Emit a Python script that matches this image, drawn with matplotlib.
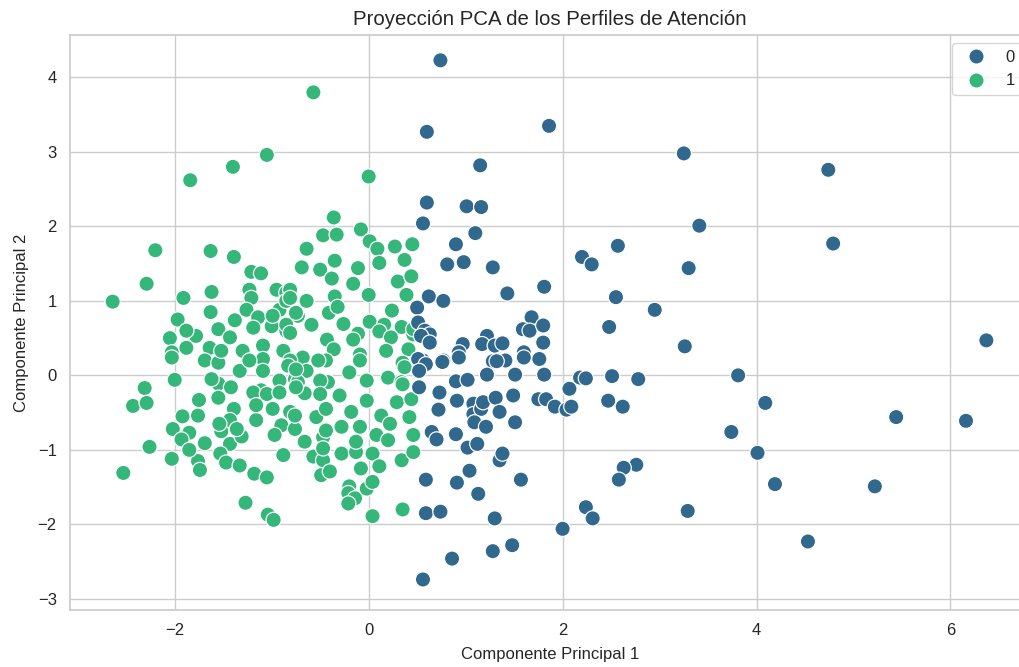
import matplotlib
matplotlib.use("Agg")
import matplotlib.pyplot as plt
import numpy as np
import seaborn as sns

# puntos (PC1, PC2), grupo 0
cluster_0 = np.array([
    (0.74, 4.23), (0.60, 3.27), (1.86, 3.35), (3.25, 2.98), (1.15, 2.82), (4.74, 2.76),
    (0.60, 2.32), (1.01, 2.27), (1.16, 2.26), (0.56, 2.04), (3.41, 2.01), (1.10, 1.91),
    (0.90, 1.76), (2.57, 1.74), (4.79, 1.77), (2.20, 1.59), (2.30, 1.49), (0.81, 1.49),
    (0.98, 1.52), (1.28, 1.45), (3.30, 1.44), (1.81, 1.19), (1.43, 1.10), (2.55, 1.05),
    (0.62, 1.06), (0.77, 1.00), (0.50, 0.91), (2.95, 0.88), (0.51, 0.71), (1.68, 0.78),
    (2.48, 0.65), (1.59, 0.62), (1.66, 0.60), (1.80, 0.67), (0.58, 0.60), (0.63, 0.55),
    (0.54, 0.53), (1.22, 0.53), (6.37, 0.47), (1.80, 0.44), (1.17, 0.42), (1.30, 0.40),
    (1.38, 0.43), (0.97, 0.42), (0.63, 0.44), (3.26, 0.39), (0.93, 0.31), (1.60, 0.31),
    (1.76, 0.22), (1.41, 0.20), (1.28, 0.19), (0.77, 0.20), (0.56, 0.20), (0.51, 0.22),
    (0.59, 0.15), (0.76, 0.18), (0.93, 0.24), (1.32, 0.19), (1.60, 0.24), (0.52, 0.06),
    (0.52, -0.16), (0.73, -0.23), (0.90, -0.08), (1.02, -0.06), (1.22, 0.01), (1.51, 0.01),
    (1.81, 0.01), (2.07, -0.18), (2.18, -0.03), (2.24, -0.04), (2.51, -0.01), (2.78, -0.05),
    (3.81, 0.00), (0.91, -0.34), (0.72, -0.46), (1.08, -0.38), (1.08, -0.52), (1.16, -0.45),
    (1.18, -0.36), (1.09, -0.63), (1.21, -0.69), (1.31, -0.30), (1.35, -0.49), (1.49, -0.27),
    (1.51, -0.63), (1.75, -0.32), (1.83, -0.32), (1.92, -0.42), (2.04, -0.46), (2.09, -0.42),
    (2.47, -0.34), (2.62, -0.42), (4.09, -0.37), (5.44, -0.56), (6.16, -0.61), (0.65, -0.76),
    (0.70, -0.86), (0.90, -0.79), (1.02, -0.97), (1.12, -0.92), (1.35, -1.14), (1.38, -1.05),
    (3.74, -0.76), (4.01, -1.04), (2.76, -1.20), (2.63, -1.24), (2.58, -1.40), (0.59, -1.40),
    (0.91, -1.44), (1.04, -1.28), (1.13, -1.59), (1.57, -1.40), (4.19, -1.46), (5.22, -1.49),
    (0.59, -1.85), (0.74, -1.83), (1.30, -1.92), (2.24, -1.77), (2.31, -1.92), (3.29, -1.82),
    (2.00, -2.06), (1.48, -2.28), (1.28, -2.36), (0.86, -2.46), (4.53, -2.23), (0.56, -2.74),
])

# grupo 1
cluster_1 = np.array([
    (-0.57, 3.80), (-1.05, 2.96), (-1.40, 2.80), (-1.84, 2.62), (0.00, 2.67),
    (-2.20, 1.68), (-2.29, 1.23), (-2.64, 0.99), (-1.63, 1.67), (-1.39, 1.59), (-1.21, 1.39),
    (-1.11, 1.37), (-1.23, 1.15), (-1.21, 1.04), (-1.91, 1.04), (-1.62, 1.12), (-1.63, 0.85),
    (-0.95, 1.15), (-0.85, 1.11), (-0.92, 0.88), (-1.26, 0.88), (-1.14, 0.78), (-1.97, 0.75),
    (-1.38, 0.74), (-1.19, 0.64), (-1.55, 0.62), (-1.78, 0.53), (-2.05, 0.50), (-1.43, 0.51),
    (-2.03, 0.31), (-1.88, 0.37), (-1.64, 0.37), (-1.30, 0.33), (-1.09, 0.40), (-0.88, 0.33),
    (-1.69, 0.20), (-1.55, 0.17), (-1.09, 0.22), (-0.85, 1.00), (-1.00, 0.66), (-0.85, 0.60),
    (-2.31, -0.17), (-2.43, -0.41), (-2.29, -0.37), (-2.00, -0.06), (-2.03, 0.24), (-2.26, -0.96),
    (-2.53, -1.31), (-2.03, -1.12), (-2.02, -0.72), (-1.92, -0.55), (-1.85, -0.77), (-1.93, -0.86),
    (-1.76, -0.54), (-1.75, -0.33), (-1.69, -0.91), (-1.76, -1.15), (-1.74, -1.27), (-1.55, -0.11),
    (-1.55, -0.30), (-1.42, -0.16), (-1.39, -0.45), (-1.52, -0.75), (-1.43, -0.92), (-1.53, -1.05),
    (-1.47, -1.17), (-1.33, -1.21), (-1.31, -0.82), (-1.18, -1.32), (-1.05, -1.37), (-1.27, -1.71),
    (-1.04, -1.87), (-0.98, -1.94), (-1.16, -0.60), (-0.99, -0.45), (-0.90, -0.67), (-0.97, -0.80),
    (-0.88, -1.07), (-1.33, 0.06), (-1.09, 0.06), (-1.11, -0.20), (-1.19, -0.23), (-0.92, -0.07),
    (-1.43, -0.60), (-1.23, 0.20),
    (-0.36, 2.12), (-0.47, 1.88), (-0.33, 1.89), (-0.08, 1.96), (-0.64, 1.70), (0.01, 1.80),
    (0.09, 1.70), (0.27, 1.73), (0.45, 1.76), (-0.69, 1.45), (-0.50, 1.42), (-0.35, 1.54),
    (-0.11, 1.44), (0.11, 1.51), (0.37, 1.55), (-0.38, 1.30), (-0.16, 1.23), (0.30, 1.26),
    (0.44, 1.33), (0.00, 1.08), (0.39, 1.08), (-0.35, 1.06), (-0.81, 1.15), (-0.64, 1.00),
    (-0.81, 1.04), (-0.73, 0.80), (-0.85, 0.68), (-0.59, 0.68), (-0.41, 0.84), (-0.32, 0.92),
    (0.24, 0.87), (-0.43, 0.48), (-0.26, 0.69), (0.01, 0.72), (0.16, 0.68), (0.34, 0.65),
    (-0.11, 0.56), (0.11, 0.59), (0.46, 0.55), (0.23, 0.51), (-0.16, 0.48), (-0.81, 0.57),
    (-0.99, 0.80), (-0.36, 0.35), (-0.09, 0.28), (0.18, 0.33), (0.41, 0.35), (0.35, 0.17),
    (-0.68, 0.24), (-0.44, 0.20), (-0.81, 0.20),
    (-0.83, 0.13), (-0.64, 0.06), (-0.42, -0.09), (-0.76, -0.05), (-0.20, 0.04), (-0.02, -0.07),
    (-0.09, 0.20), (0.20, -0.03), (0.34, -0.09), (-0.66, -0.24), (-0.54, -0.56), (-0.30, -0.27),
    (-0.44, -0.45), (-0.18, -0.49), (-0.02, -0.34), (0.13, -0.54), (0.29, -0.36), (0.42, -0.56),
    (-0.28, -0.69), (-0.09, -0.69), (0.08, -0.80), (0.46, -0.80), (-0.66, -0.89), (-0.47, -0.83),
    (0.20, -0.87), (-0.57, -1.09), (-0.28, -1.05), (-0.47, -1.14), (-0.13, -1.03), (0.04, -1.05),
    (0.34, -1.14), (0.46, -1.03), (-0.49, -1.34), (-0.40, -1.29), (-0.08, -1.25), (0.11, -1.22),
    (-0.20, -1.49), (-0.21, -1.58), (-0.14, -1.65), (-0.21, -1.72), (-0.02, -1.52), (0.04, -1.43),
    (0.04, -1.89), (0.35, -1.80), (0.37, 0.11), (0.35, -0.12), (0.44, -0.32), (0.46, 0.62),
    (-1.88, 0.60), (-1.52, 0.33), (-0.52, 0.20), (-1.62, -0.05), (-1.05, -0.25), (-0.73, -0.09),
    (-0.92, -0.23), (-0.50, -0.07), (-1.16, -0.40), (-0.81, -0.49), (-1.54, -0.65), (-1.36, -0.72),
    (-0.76, -0.72), (-0.44, -0.74), (-1.85, -1.00), (-0.50, -0.25), (-0.47, -0.98), (-0.75, 0.84),
    (-0.75, 0.08), (-0.75, -0.16), (-0.76, -0.54), (0.22, -0.65), (-0.13, -0.89),
])

titulo = "Proyección PCA de los Perfiles de Atención"
etiqueta_x = "Componente Principal 1"
etiqueta_y = "Componente Principal 2"

pc1 = np.concatenate([cluster_1[:, 0], cluster_0[:, 0]])
pc2 = np.concatenate([cluster_1[:, 1], cluster_0[:, 1]])
grupo = ["1"] * len(cluster_1) + ["0"] * len(cluster_0)

sns.set_theme(style="whitegrid")
plt.rcParams["font.family"] = ["Liberation Sans", "DejaVu Sans"]

fig = plt.figure(figsize=(10.19, 6.67), dpi=100)
ax = fig.add_axes([70 / 1019, 57 / 667, 960 / 1019, 575 / 667])

sns.scatterplot(x=pc1, y=pc2, hue=grupo, hue_order=["0", "1"], palette="viridis",
                s=120, ax=ax)

ax.set_xlim(-3.08, 6.82)
ax.set_ylim(-3.15, 4.57)
ax.set_title(titulo, fontsize=14.7, pad=7)
ax.set_xlabel(etiqueta_x, fontsize=12, labelpad=6)
ax.set_ylabel(etiqueta_y, fontsize=12, labelpad=6)
ax.tick_params(labelsize=12)
ax.legend(loc="upper right", fontsize=12)

fig.savefig("out.png", dpi=100)
